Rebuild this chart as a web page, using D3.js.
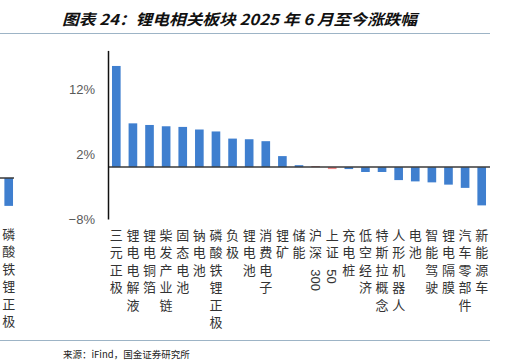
<!DOCTYPE html>
<html>
<head>
<meta charset="utf-8">
<script src="https://cdn.jsdelivr.net/npm/d3@7"></script>
<style>
  html, body { margin: 0; padding: 0; background: #fff; }
</style>
</head>
<body>
<div id="chart"></div>
<script>
// data (percent change since June 2025)
const categories = [
  '三元正极', '锂电电解液', '锂电铜箔', '柴发产业链', '固态电池', '钠电池',
  '磷酸铁锂正极', '负极', '锂电池', '消费电子', '锂矿', '储能', '沪深300',
  '上证50', '充电桩', '低空经济', '特斯拉概念', '人形机器人', '电池',
  '智能驾驶', '锂电隔膜', '汽车零部件', '新能源车'
];
const values = [
  15.6, 6.75, 6.5, 6.3, 6.2, 5.8, 5.5, 4.4, 4.3, 4.0, 1.7, 0.3, 0.1,
  -0.3, -0.3, -0.75, -0.75, -2.0, -2.2, -2.35, -2.7, -3.2, -5.9
];
const yTicks = [-8, 2, 12];

// cut-off tail of the neighbouring chart at the left edge
const fragCategories = ['钠电池', '磷酸铁锂正极'];
const fragValues = [1.0, -4.3];

const titleText = '图表 24：锂电相关板块 2025 年 6 月至今涨跌幅';
const sourceText = '来源：iFind，国金证券研究所';

const W = 526, H = 360;
const BLUE = '#3f7fcf';
const CJK = '"Noto Sans CJK SC", "Noto Sans", sans-serif';

const svg = d3.select('#chart')
  .append('svg')
  .attr('width', W)
  .attr('height', H)
  .style('display', 'block');

// title + rules
svg.append('text')
  .attr('x', 62)
  .attr('y', 25)
  .attr('textLength', 355)
  .attr('lengthAdjust', 'spacingAndGlyphs')
  .style('font-family', CJK)
  .style('font-size', '15px')
  .style('font-weight', 'bold')
  .style('font-style', 'italic')
  .style('fill', '#111')
  .text(titleText);

svg.append('line')
  .attr('x1', 0).attr('x2', 490)
  .attr('y1', 33.5).attr('y2', 33.5)
  .attr('stroke', '#9db4c6')
  .attr('stroke-width', 1);

svg.append('line')
  .attr('x1', 0).attr('x2', 490)
  .attr('y1', 340.5).attr('y2', 340.5)
  .attr('stroke', '#9db4c6')
  .attr('stroke-width', 1);

svg.append('text')
  .attr('x', 63)
  .attr('y', 358)
  .style('font-family', CJK)
  .style('font-size', '9.5px')
  .style('fill', '#222')
  .text(sourceText);

// scales
const x = d3.scaleBand()
  .domain(categories)
  .range([108, 490])
  .paddingInner(0.48)
  .paddingOuter(0.24);

const y = d3.scaleLinear()
  .domain([-8, 18])
  .range([219, 50.4]);

function barColor(name) {
  if (name === '沪深300') return '#8b1010';
  if (name === '上证50') return '#f08a8a';
  return BLUE;
}

// vertical (stacked) category labels; runs of digits are rotated
function drawLabel(g, label, cx, top) {
  const parts = label.match(/[0-9]+|[^0-9]/g);
  const rowH = 17.5;
  let row = 0;
  parts.forEach((p) => {
    if (/^[0-9]+$/.test(p)) {
      const yy = top + row * rowH - 8.75 + 8;
      g.append('text')
        .attr('transform', `translate(${cx - 5}, ${yy}) rotate(90)`)
        .style('font-family', '"Liberation Sans", Arial, sans-serif')
        .style('font-size', '13px')
        .style('fill', '#333')
        .attr('text-anchor', 'start')
        .text(p);
      row += 2;
    } else {
      g.append('text')
        .attr('x', cx)
        .attr('y', top + row * rowH)
        .attr('dy', '0.36em')
        .attr('text-anchor', 'middle')
        .style('font-family', CJK)
        .style('font-size', '13px')
        .style('fill', '#333')
        .text(p);
      row += 1;
    }
  });
}

const plot = svg.append('g');

// bars
plot.selectAll('rect.bar')
  .data(values)
  .enter()
  .append('rect')
  .attr('class', 'bar')
  .attr('x', (d, i) => x(categories[i]))
  .attr('width', x.bandwidth())
  .attr('y', (d) => Math.min(y(d), y(0)))
  .attr('height', (d) => Math.abs(y(d) - y(0)))
  .attr('fill', (d, i) => barColor(categories[i]));

// category axis at zero
plot.append('line')
  .attr('x1', 108).attr('x2', 490)
  .attr('y1', y(0)).attr('y2', y(0))
  .attr('stroke', '#3a3a3a')
  .attr('stroke-width', 1.5);

// y axis
const yAxis = plot.append('g')
  .attr('transform', 'translate(108, 0)')
  .call(d3.axisLeft(y)
    .tickValues(yTicks)
    .tickSize(0)
    .tickPadding(13)
    .tickFormat((d) => d3.format('')(d) + '%'));

yAxis.select('.domain')
  .attr('stroke', '#111')
  .attr('stroke-width', 1.5);

yAxis.selectAll('text')
  .style('font-family', '"Liberation Sans", Arial, sans-serif')
  .style('font-size', '13px')
  .style('fill', '#595959');

const labels = svg.append('g');
categories.forEach((c) => {
  drawLabel(labels, c, x(c) + x.bandwidth() / 2, 235);
});

// neighbouring chart fragment
const fx = d3.scaleBand()
  .domain(fragCategories)
  .range([-16.2, 17])
  .paddingInner(0.48)
  .paddingOuter(0.24);

const fy = d3.scaleLinear()
  .domain([-8, 18])
  .range([178 + 8 * 6.485, 178 - 18 * 6.485]);

svg.selectAll('rect.frag')
  .data(fragValues)
  .enter()
  .append('rect')
  .attr('class', 'frag')
  .attr('x', (d, i) => fx(fragCategories[i]))
  .attr('width', fx.bandwidth())
  .attr('y', (d) => Math.min(fy(d), fy(0)))
  .attr('height', (d) => Math.abs(fy(d) - fy(0)))
  .attr('fill', BLUE);

svg.append('line')
  .attr('x1', 0).attr('x2', 14)
  .attr('y1', fy(0)).attr('y2', fy(0))
  .attr('stroke', '#3a3a3a')
  .attr('stroke-width', 1.5);

fragCategories.forEach((c) => {
  drawLabel(labels, c, fx(c) + fx.bandwidth() / 2, 234);
});
</script>
</body>
</html>
